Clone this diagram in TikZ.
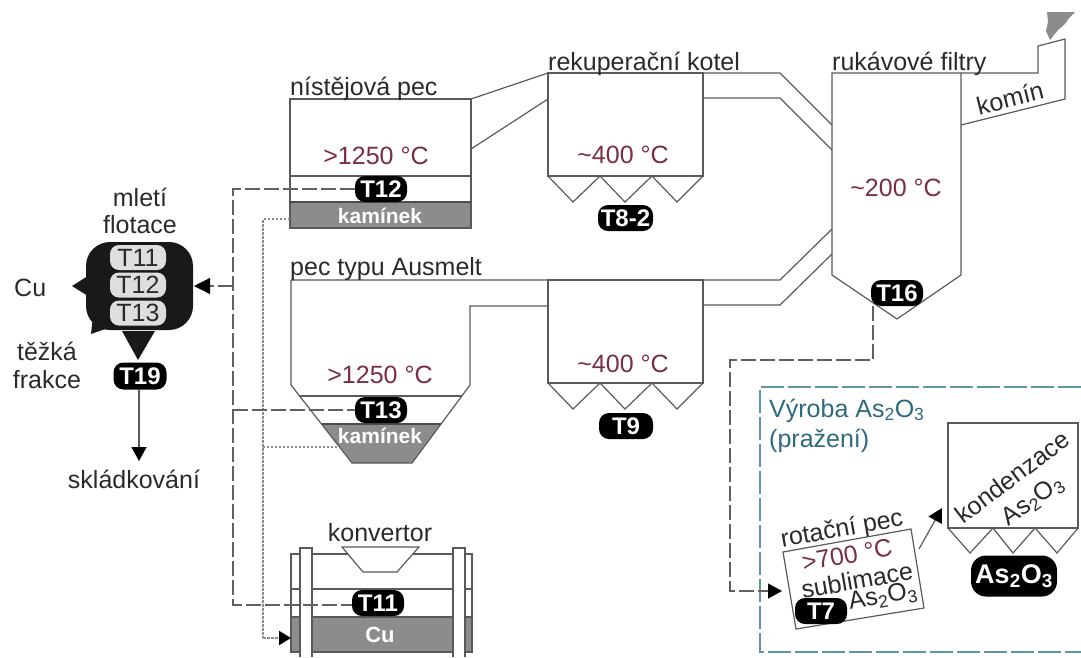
\documentclass[tikz,border=0pt]{standalone}
\usepackage{fontspec}
\setmainfont{Liberation Sans}
\usetikzlibrary{arrows.meta}
\definecolor{ln}{HTML}{5A5A5A}
\definecolor{txt}{HTML}{2A2A2A}
\definecolor{temp}{HTML}{7A2E40}
\definecolor{slag}{HTML}{8C8C8C}
\definecolor{teal}{HTML}{5F97A6}
\definecolor{tealt}{HTML}{2E6A7C}
\newcommand{\asox}{As\textsubscript{2}O\textsubscript{3}}
\newcommand{\fs}[1]{\fontsize{#1}{#1}\selectfont}
\tikzset{
  wall/.style={draw=ln,line width=1.2pt,line join=miter},
  lab/.style={text=txt,inner sep=0pt,font=\fs{25}},
  leftlab/.style={lab,anchor=base west},
  tempr/.style={text=temp,inner sep=0pt,font=\fs{25}},
  pill/.style={fill=black,text=white,rounded corners=10pt,inner sep=0pt,minimum width=52pt,minimum height=26pt,font=\bfseries\fs{24}},
  lpill/.style={fill=black!13,text=txt,rounded corners=9pt,inner sep=0pt,minimum width=56pt,minimum height=25pt,font=\fs{25}},
  slagtxt/.style={text=white,inner sep=0pt,font=\bfseries\fs{21}},
  longd/.style={draw=black!62,line width=1.2pt,dash pattern=on 15pt off 4pt},
  dotd/.style={draw=black!45,line width=2pt,dash pattern=on 2.5pt off 1.5pt},
  head/.style={-{Triangle[length=14pt,width=15pt,color=black]}},
}
\begin{document}
\begin{tikzpicture}[x=1pt,y=-1pt]
\useasboundingbox (0,0) rectangle (1081,657);
% ---- process box As2O3
\draw[draw=teal,line width=1.5pt,dash pattern=on 23pt off 4pt] (1081,387) -- (760,387) -- (760,652) -- (1081,652);
% ---- connector anchor points
\coordinate (hTL) at (471,99); \coordinate (hBL) at (471,149);
\coordinate (b1a) at (548,73); \coordinate (b1b) at (548,99);
\coordinate (b1c) at (703,73); \coordinate (b1d) at (703,98);
\coordinate (k1) at (780,73); \coordinate (k2) at (780,98);
\coordinate (f1) at (832,125); \coordinate (f2) at (832,150);
\coordinate (k3) at (780,280); \coordinate (k4) at (780,305);
\coordinate (f3) at (832,229); \coordinate (f4) at (832,254);
% ---- hearth furnace
\fill[slag] (290,202) rectangle (471,228);
\draw[wall] (290,99) rectangle (471,228);
\draw[wall] (290,176) -- (471,176);
\draw[draw=black!70,line width=1.4pt] (290,202) -- (471,202);
\draw[wall] (hTL) -- (b1a) (hBL) -- (b1b);
\node[leftlab] at (290,95) {nístějová pec};
\node[tempr] at (376,156) {>1250 °C};
\node[slagtxt] at (380,216) {kamínek};
% ---- boiler 1
\draw[wall] (548,73) rectangle (703,176);
\draw[wall] (548,176) -- (573,202) -- (600,176) -- (625,202) -- (652,176) -- (677,202) -- (703,176);
\draw[wall] (b1c) -- (k1) -- (f1) (b1d) -- (k2) -- (f2);
\node[leftlab] at (548,70) {rekuperační kotel};
\node[tempr] at (623,155) {\textasciitilde 400 °C};
\node[pill,minimum width=55pt] (t82) at (625.5,218) {T8-2};
% ---- filter
\draw[wall] (832,73) -- (961,73) -- (961,275) -- (897,319) -- (832,275) -- cycle;
\draw[wall] (961,73) -- (1038,73) -- (1038,46) -- (1065,39) -- (1065,99) -- (961,125);
\fill[black!45] (1047,12) -- (1075,12) -- (1069,18) -- (1065,24) -- (1058,30) -- (1050,40) -- (1046,31) -- (1048,22) -- cycle;
\node[leftlab] at (832,70) {rukávové filtry};
\node[tempr] at (896,188) {\textasciitilde 200 °C};
\node[lab,rotate=14] at (1010,98) {komín};
\node[pill] (t16) at (897,293) {T16};
% ---- Ausmelt furnace
\fill[slag] (322,424) -- (441,424) -- (412,463) -- (352,463) -- cycle;
\draw[wall] (291,280) -- (780,280) -- (f3);
\draw[wall] (291,280) -- (291,385) -- (352,463) -- (412,463) -- (470,385) -- (470,306) -- (548,306);
\draw[wall] (300,396) -- (462,396);
\draw[draw=black!70,line width=1.2pt] (322,424) -- (441,424);
\draw[wall] (703,305) -- (k4) -- (f4);
\node[leftlab] at (290,275) {pec typu Ausmelt};
\node[tempr] at (380,375) {>1250 °C};
\node[slagtxt] at (380,436) {kamínek};
% ---- boiler 2
\draw[wall] (548,280) rectangle (703,383);
\draw[wall] (548,383) -- (573,409) -- (600,383) -- (625,409) -- (652,383) -- (677,409) -- (703,383);
\node[tempr] at (623,364) {\textasciitilde 400 °C};
\node[pill,minimum width=54pt] (t9) at (626,426) {T9};
% ---- converter
\fill[slag] (291,617) rectangle (472,652);
\draw[wall] (291,554) rectangle (472,652);
\draw[wall] (291,589) -- (472,589);
\draw[draw=black!65,line width=1.2pt] (291,617) -- (472,617);
\draw[wall,fill=white] (300,657) -- (300,548) -- (312,548) -- (312,657);
\draw[wall,fill=white] (453,657) -- (453,548) -- (465,548) -- (465,657);
\draw[wall,fill=white] (342,547) -- (419,547) -- (397,572) -- (363,572) -- cycle;
\node[lab] at (380,533) {konvertor};
\node[slagtxt,font=\bfseries\fs{22}] at (380,635) {Cu};
% ---- dashed and dotted returns
\coordinate (dTop) at (233,189); \coordinate (dMid) at (233,410);
\coordinate (dBot) at (233,605); \coordinate (dOut) at (233,286);
\coordinate (oTop) at (263,219); \coordinate (oMid) at (263,447);
\coordinate (oBot) at (263,638); \coordinate (hSlag) at (290,219);
\coordinate (aSlag) at (337,447); \coordinate (cSlag) at (291,638);
\node[pill] (t12) at (381,189) {T12};
\node[pill] (t13) at (381,410) {T13};
\node[pill] (t11) at (378,603) {T11};
\draw[dotd] (hSlag) -- (oTop) -- (oBot);
\draw[dotd] (aSlag) -- (oMid);
\draw[dotd,-{Triangle[length=12pt,width=14pt,color=black]}] (oBot) -- (cSlag);
\draw[longd] (t12.west) -- (dTop) -- (dBot) -- (t11.west |- dBot);
\draw[longd] (dMid) -- (t13.west);
% ---- milling and flotation
\node[fill=black!90,rounded corners=24pt,minimum width=107pt,minimum height=88pt,inner sep=0pt] (blob) at (139.5,286) {};
\fill[black!90] (blob.west) ++(2,-10) -- (72,286) -- ++(16,10) -- cycle;
\fill[black!90] (93,316) -- (91,334) -- (108,328) -- cycle;
\node[lpill] (m11) at (138,257.5) {T11};
\node[lpill] (m12) at (138,285) {T12};
\node[lpill] (m13) at (138,313) {T13};
\node[lab] at (140,197) {mletí};
\node[lab] at (140,225) {flotace};
\node[lab,anchor=west] at (14,288) {Cu};
\node[lab] at (47,351) {těžká};
\node[lab] at (47,380) {frakce};
\node[pill,minimum width=53pt,minimum height=27pt] (t19) at (140,376) {T19};
\fill[black!90] (122,331) -- (155,331) -- (138,360) -- cycle;
\coordinate (sk) at (139,461);
\draw[ln,line width=1.2pt,head] (t19.south -| sk) -- (sk);
\node[lab] (skl) at (134,479) {skládkování};
\draw[longd,-{Triangle[length=16pt,width=16pt,color=black]}] (dOut) -- (194,286);
% ---- As2O3 production
\coordinate (fTurn) at (873,360); \coordinate (fLeft) at (730,360); \coordinate (fDown) at (730,591);
\coordinate (rotIn) at (782,591);
\draw[longd,head] (t16.south -| fTurn) -- (fTurn) -- (fLeft) -- (fDown) -- (rotIn);
\node[text=tealt,inner sep=0pt,anchor=base west,font=\fs{25}] at (769,417) {Výroba \asox};
\node[text=tealt,inner sep=0pt,anchor=base west,font=\fs{25}] at (769,447) {(pražení)};
\draw[wall] (783,552) -- (911,529) -- (924,608) -- (796,629) -- cycle;
\node[lab,rotate=10] at (842,530) {rotační pec};
\node[tempr,rotate=10] at (847,555) {>700 °C};
\node[lab,rotate=10] at (857,580) {sublimace};
\node[lab,rotate=10] at (883,597) {\asox};
\node[pill] (t7) at (821,611) {T7};
\draw[wall] (948,423) rectangle (1078,528);
\draw[wall] (948,528) -- (970,553) -- (993,528) -- (1013,553) -- (1035,528) -- (1057,553) -- (1078,528);
\node[lab,rotate=37] at (1012,477) {kondenzace};
\node[lab,rotate=35] at (1033,501) {\asox};
\node[pill,minimum width=86pt,minimum height=41pt,rounded corners=15pt,font=\bfseries\fs{27}] (pas) at (1014,576) {\asox};
\coordinate (rotOut) at (919,549); \coordinate (kondIn) at (942,508);
\draw[ln,line width=1.2pt,head] (rotOut) -- (kondIn);
\end{tikzpicture}
\end{document}
